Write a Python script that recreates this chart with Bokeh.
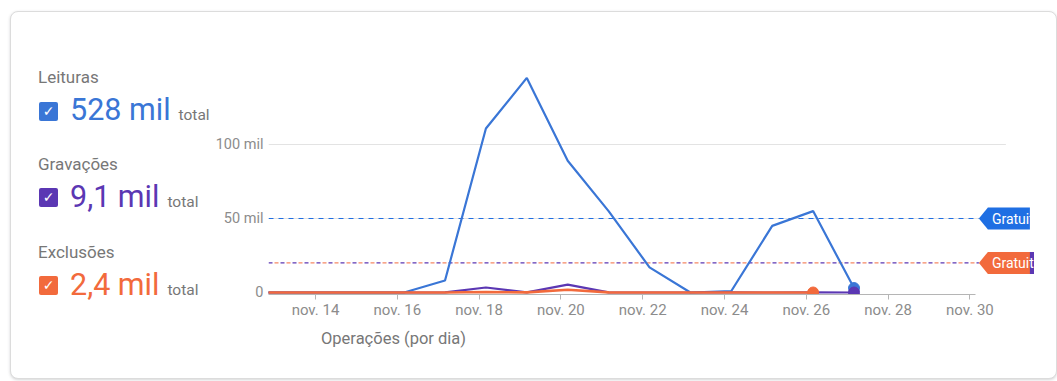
import pandas as pd
from bokeh.plotting import figure
from bokeh.layouts import row, column
from bokeh.models import Range1d, FixedTicker, Spacer, Div
from bokeh.core.properties import value
from bokeh.embed import file_html
from bokeh.resources import INLINE

# ---------------- data ----------------
days = ["2023-11-12", "2023-11-13", "2023-11-14", "2023-11-15", "2023-11-16",
        "2023-11-17", "2023-11-18", "2023-11-19", "2023-11-20", "2023-11-21",
        "2023-11-22", "2023-11-23", "2023-11-24", "2023-11-25", "2023-11-26",
        "2023-11-27"]
leituras = [0, 0, 0, 0, 0, 8100, 110800, 145000, 89000, 55000, 17000, 0, 1000,
            45000, 55000, 3000]
gravacoes = [0, 0, 0, 0, 0, 100, 3400, 100, 5300, 100, 0, 0, 50, 0, 50, 0]
exclusoes = [0, 0, 0, 0, 0, 0, 300, 100, 1900, 100, 0, 0, 0, 0, 0]  # until nov 26

series_names = ["Leituras", "Gravações", "Exclusões"]
series_totals = ["528 mil", "9,1 mil", "2,4 mil"]
total_word = "total"
quota_values = [50000, 20000, 20000]   # reads, writes, deletes (free quota)
quota_label = "Gratuito"

x_tick_days = ["2023-11-14", "2023-11-16", "2023-11-18", "2023-11-20", "2023-11-22",
               "2023-11-24", "2023-11-26", "2023-11-28", "2023-11-30"]
x_tick_labels = ["nov. 14", "nov. 16", "nov. 18", "nov. 20", "nov. 22",
                 "nov. 24", "nov. 26", "nov. 28", "nov. 30"]
y_ticks = [0, 50000, 100000]
y_tick_labels = ["0", "50 mil", "100 mil"]
x_axis_title = "Operações (por dia)"

# ---------------- styles ----------------
BLUE = "#3a76d6"
PURPLE = "#5b37b3"
ORANGE = "#f26a3c"
TAG_BLUE = "#1f6fe3"
GREY_TXT = "#777777"
FONT = "Roboto"

DAY_MS = 86400000
def ms(d):
    return int(pd.Timestamp(d).value // 10**6)

PX_PER_DAY = 40.9
FRAME_W = 766
FRAME_H = 234
BORDER_L = 56
x_start = ms("2023-11-14") - 47 / PX_PER_DAY * DAY_MS
x_end = x_start + FRAME_W / PX_PER_DAY * DAY_MS
Y_PER_PX = 50000 / 74
y_start = -2 * Y_PER_PX
y_end = y_start + FRAME_H * Y_PER_PX
MS_PER_PX = DAY_MS / PX_PER_DAY

xs = pd.to_datetime(days) + pd.Timedelta(hours=4)

# ---------------- chart ----------------
p = figure(width=BORDER_L + FRAME_W, height=312, x_axis_type="datetime",
           x_range=Range1d(x_start, x_end), y_range=Range1d(y_start, y_end),
           min_border_left=BORDER_L, min_border_right=0, min_border_top=48,
           min_border_bottom=30, output_backend="svg", toolbar_location=None,
           margin=0)
for g in p.grid:
    g.visible = False
p.outline_line_color = None
p.background_fill_color = "white"
p.border_fill_color = "white"

ax = p.xaxis[0]
tick_ms = [ms(d) for d in x_tick_days]
ax.ticker = FixedTicker(ticks=tick_ms)
ax.major_label_overrides = {t: l for t, l in zip(tick_ms, x_tick_labels)}
ax.bounds = (x_start, ms("2023-11-30") + 6 * MS_PER_PX)
ax.axis_line_color = "#b5b5b5"
ax.major_tick_line_color = "#b5b5b5"
ax.major_tick_in = 0
ax.major_tick_out = 5
ax.minor_tick_line_color = None
ax.major_label_text_font = FONT
ax.major_label_text_font_size = "15px"
ax.major_label_text_color = "#8c8c8c"
ax.major_label_standoff = 1

ay = p.yaxis[0]
ay.ticker = FixedTicker(ticks=y_ticks)
ay.major_label_overrides = {t: l for t, l in zip(y_ticks, y_tick_labels)}
ay.axis_line_color = None
ay.major_tick_line_color = None
ay.minor_tick_line_color = None
ay.major_tick_in = 0
ay.major_tick_out = 0
ay.minor_tick_in = 0
ay.minor_tick_out = 0
ay.major_label_text_font = FONT
ay.major_label_text_font_size = "14.5px"
ay.major_label_text_color = "#8c8c8c"
ay.major_label_standoff = 5

# horizontal grid lines (stopping short of the right edge)
grid_end = ms("2023-11-30") + 36 * MS_PER_PX
p.segment(x0=[x_start] * 2, x1=[grid_end] * 2, y0=y_ticks[1:], y1=y_ticks[1:],
          line_color="#e3e3e3", line_width=1)

# quota lines
tag_tip = ms("2023-11-30") + 9 * MS_PER_PX
p.line([x_start, tag_tip], [quota_values[0]] * 2, line_color=TAG_BLUE,
       line_dash="5 5", line_width=1.2)
p.line([x_start, tag_tip], [quota_values[1]] * 2, line_color=PURPLE,
       line_dash="4 8", line_width=1.2)
p.line([x_start, tag_tip], [quota_values[2]] * 2, line_color=ORANGE,
       line_dash="4 8", line_dash_offset=6, line_width=1.2, line_alpha=0.8)

# series
p.line(xs, leituras, line_color=BLUE, line_width=2.2)
p.line(xs, gravacoes, line_color=PURPLE, line_width=2.2)
p.line(xs[:len(exclusoes)], exclusoes, line_color=ORANGE, line_width=2.6)
p.scatter([xs[len(leituras) - 1]], [leituras[-1]], size=11, color=BLUE)
p.scatter([xs[len(gravacoes) - 1]], [gravacoes[-1]], size=11, color=PURPLE)
p.scatter([xs[len(exclusoes) - 1]], [exclusoes[-1]], size=11, color=ORANGE)

# quota tags
def tag(q, color, shift_px=0, width_px=51):
    t = tag_tip + shift_px * MS_PER_PX
    hx = [t, t + 9 * MS_PER_PX, t + width_px * MS_PER_PX, t + width_px * MS_PER_PX,
          t + 9 * MS_PER_PX]
    hy = [q, q + 11 * Y_PER_PX, q + 11 * Y_PER_PX, q - 11 * Y_PER_PX, q - 11 * Y_PER_PX]
    p.patch(hx, hy, fill_color=color, line_color=None)

tag(quota_values[1], PURPLE, shift_px=4, width_px=60)
tag(quota_values[2], ORANGE)
tag(quota_values[0], TAG_BLUE)
p.text(x=[tag_tip + 13 * MS_PER_PX] * 2, y=[quota_values[0], quota_values[2]],
       text=[quota_label] * 2, text_baseline="middle", text_align="left",
       text_color="white", text_font=value(FONT), text_font_size="14px")

axis_title = Div(text=x_axis_title, width=BORDER_L + FRAME_W, height=54, margin=0,
                 styles={"font-family": FONT, "font-size": "16.5px", "color": GREY_TXT,
                         "padding-left": "109px", "padding-top": "7px",
                         "line-height": "1", "box-sizing": "border-box"})

# ---------------- legend panel ----------------
colors = [BLUE, PURPLE, ORANGE]
label_base = [83 - 12, 170 - 12, 258 - 12]
num_base = [121 - 12, 208 - 12, 296 - 12]
box_center = [111 - 12, 197 - 12, 285 - 12]

parts = []
for name, tot, col, lb, nb, bc in zip(series_names, series_totals, colors,
                                      label_base, num_base, box_center):
    parts.append(
        f'<div style="position:absolute;left:27px;top:{lb - 14.3}px;font-size:17px;'
        f'line-height:1;color:{GREY_TXT};white-space:nowrap">{name}</div>')
    parts.append(
        f'<div style="position:absolute;left:28px;top:{bc - 9.5}px;width:19px;height:19px;'
        f'background:{col};border-radius:2px;color:white;font-family:\'DejaVu Sans\';'
        f'font-weight:bold;font-size:14px;line-height:19px;text-align:center">✓</div>')
    parts.append(
        f'<div style="position:absolute;left:59px;top:{nb - 25.7}px;display:flex;'
        f'align-items:baseline;white-space:nowrap">'
        f'<span style="font-size:30.5px;line-height:1;color:{col}">{tot}</span>'
        f'<span style="font-size:15.5px;line-height:1;color:{GREY_TXT};margin-left:8px">'
        f'{total_word}</span></div>')

LEGEND_W = 201
legend_html = (f'<div style="position:relative;width:{LEGEND_W}px;height:366px;'
               f'font-family:{FONT}">' + "".join(parts) + "</div>")
legend = Div(text=legend_html, width=LEGEND_W, height=366, margin=0)

layout = row(legend, column(p, axis_title, margin=0), Spacer(width=22, height=366, margin=0),
             margin=(11, 0, 0, 10),
             styles={"border": "1px solid #dcdcdc", "border-radius": "8px",
                     "box-shadow": "0 1px 3px rgba(60,64,67,0.22)",
                     "overflow": "hidden", "background": "white"})

open("out.html", "w").write(file_html(layout, INLINE))
